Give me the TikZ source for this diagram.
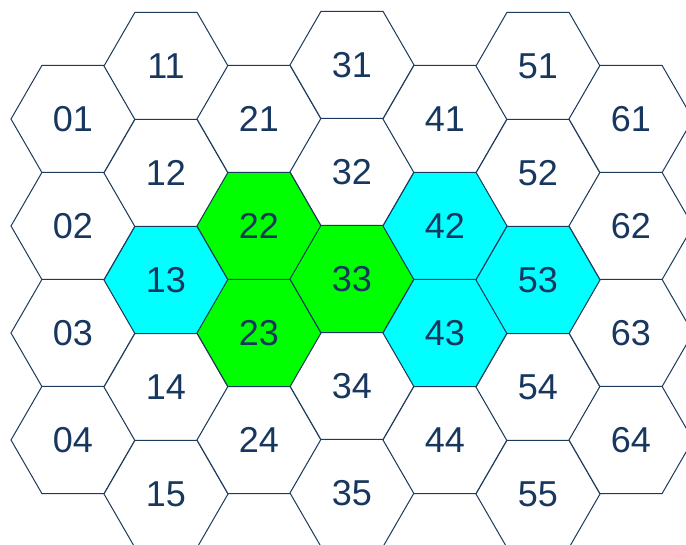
\documentclass[tikz,border=0pt]{standalone}
\usepackage{fontspec}
\setmainfont{Liberation Sans}
\usetikzlibrary{shapes.geometric}
\definecolor{hexline}{RGB}{28,58,92}
\definecolor{hextext}{RGB}{23,55,94}
\definecolor{hexgreen}{RGB}{0,255,0}
\definecolor{hexcyan}{RGB}{0,255,255}
\begin{document}
\begin{tikzpicture}[x=1pt,y=-1pt,
  hexcell/.style={regular polygon, regular polygon sides=6, minimum size=124pt,
    inner sep=0pt, outer sep=0pt, draw=hexline, line width=1pt, fill=white,
    text=hextext, font=\fontsize{36}{42}\selectfont},
  greencell/.style={hexcell, fill=hexgreen},
  cyancell/.style={hexcell, fill=hexcyan}]
\useasboundingbox (0,0) rectangle (686,544);
\fill[white] (0,0) rectangle (686,544);
% column 0
\node[hexcell] (h01) at (73,119) {01};
\node[hexcell] (h02) at (73,226) {02};
\node[hexcell] (h03) at (73,333) {03};
\node[hexcell] (h04) at (73,440) {04};
% column 1
\node[hexcell] (h11) at (166,66) {11};
\node[hexcell] (h12) at (166,173) {12};
\node[hexcell] (h14) at (166,387) {14};
\node[hexcell] (h15) at (166,494) {15};
% column 2
\node[hexcell] (h21) at (259,119) {21};
\node[hexcell] (h24) at (259,440) {24};
% column 3
\node[hexcell] (h31) at (352,65) {31};
\node[hexcell] (h32) at (352,172) {32};
\node[hexcell] (h34) at (352,386) {34};
\node[hexcell] (h35) at (352,493) {35};
% column 4
\node[hexcell] (h41) at (445,119) {41};
\node[hexcell] (h44) at (445,440) {44};
% column 5
\node[hexcell] (h51) at (538,66) {51};
\node[hexcell] (h52) at (538,173) {52};
\node[hexcell] (h54) at (538,387) {54};
\node[hexcell] (h55) at (538,494) {55};
% column 6
\node[hexcell] (h61) at (631,119) {61};
\node[hexcell] (h62) at (631,226) {62};
\node[hexcell] (h63) at (631,333) {63};
\node[hexcell] (h64) at (631,440) {64};
% highlighted cells
\node[cyancell] (h13) at (166,280) {13};
\node[greencell] (h22) at (259,226) {22};
\node[greencell] (h23) at (259,333) {23};
\node[greencell] (h33) at (352,279) {33};
\node[cyancell] (h42) at (445,226) {42};
\node[cyancell] (h43) at (445,333) {43};
\node[cyancell] (h53) at (538,280) {53};
\end{tikzpicture}
\end{document}
